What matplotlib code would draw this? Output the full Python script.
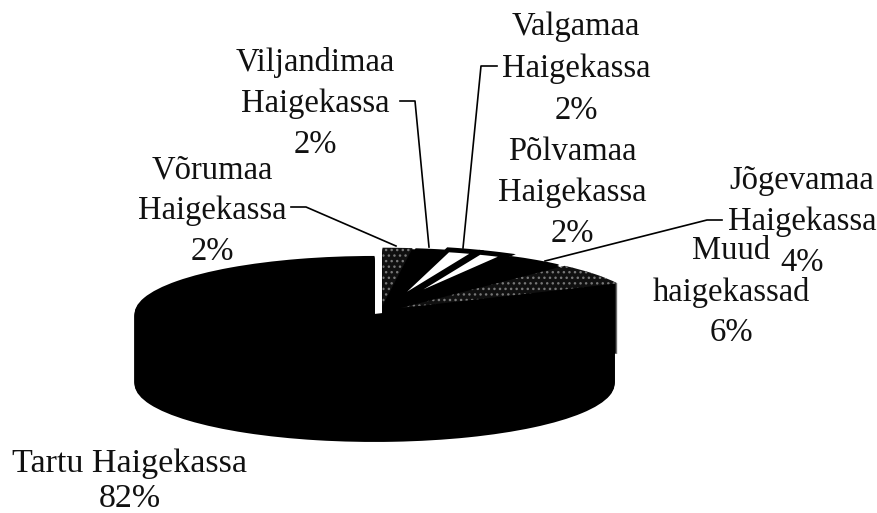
import matplotlib
matplotlib.use('Agg')
import matplotlib.pyplot as plt
from matplotlib.lines import Line2D

names = ['Võrumaa', 'Viljandimaa', 'Valgamaa', 'Põlvamaa', 'Jõgevamaa', 'Muud', 'Tartu']
values = [2, 2, 2, 2, 4, 6, 82]
top_colors = ['#101010', '#000000', '#ffffff', '#ffffff', '#000000', '#101010', '#000000']
hatches = ['...', None, None, None, None, '...', None]
explode = [0.1, 0.1, 0.1, 0.1, 0.1, 0.1, 0.05]

label_lines = [['Võrumaa', 'Haigekassa', '2%'], ['Viljandimaa', 'Haigekassa', '2%'],
               ['Valgamaa', 'Haigekassa', '2%'], ['Põlvamaa', 'Haigekassa', '2%'],
               ['Jõgevamaa', 'Haigekassa', '4%'], ['Muud', 'haigekassad', '6%'],
               ['Tartu Haigekassa', '82%']]
label_pos = [(212, 170), (315, 63), (576, 27), (572, 152), (802, 181), (731, 251), (130, 464)]
label_size = [23.5, 23.5, 23.5, 23.5, 23.5, 23.5, 24.5]
label_step = [41, 41, 42, 41, 41, 41, 35]
leaders = [[(291, 207), (306, 207), (396, 246)],
           [(400, 101), (415, 101), (429, 247)],
           [(497, 66), (481, 66), (463, 248)],
           [(722, 220), (707, 220), (545, 261)]]

W, H = 878, 513
cx, cy = 381, 311.5   # pie centre in pixels
rx, ry = 240, 58      # ellipse radii
depth = 70

def fx(x):
    return x / W

def fy(y):
    return 1 - y / H

fig = plt.figure(figsize=(8.78, 5.13), dpi=100)
ax = fig.add_axes([0, 0, 1, 1])

# side wall: stack of black pies going down
n = 70
for i in range(n, 0, -1):
    ax.pie(values, explode=explode, startangle=90, counterclock=False, radius=1,
           center=(0, -depth / ry * i / n), colors=['black'] * len(values),
           wedgeprops={'linewidth': 0})

# black underlay closes the gaps between the small exploded slices
ax.pie([v / 100 for v in values[:-1]], startangle=90, counterclock=False, radius=1,
       center=(0.02, 0.08), normalize=False, colors=['black'] * (len(values) - 1),
       wedgeprops={'linewidth': 0})

wedges, _ = ax.pie(values, explode=explode, startangle=90, counterclock=False, radius=1,
                   center=(0, 0), colors=top_colors, wedgeprops={'linewidth': 0})
for w, h, c in zip(wedges, hatches, top_colors):
    if h:
        w.set_hatch(h)
        w.set_edgecolor('#777777')
    if c == '#ffffff':
        w.set_edgecolor('black')
        w.set_linewidth(3.5)

ax.set_aspect('auto')
ax.set_xlim(-cx / rx, (W - cx) / rx)
ax.set_ylim((cy - H) / ry, cy / ry)
ax.axis('off')

for lines, (x, y), s, step in zip(label_lines, label_pos, label_size, label_step):
    for i, line in enumerate(lines):
        fig.text(fx(x), fy(y + i * step), line, ha='center', va='center', fontsize=s,
                 color='#111111', family='Liberation Serif')

for pts in leaders:
    fig.add_artist(Line2D([fx(p[0]) for p in pts], [fy(p[1]) for p in pts], color='black', lw=1.2))

fig.savefig('out.png', dpi=100)
